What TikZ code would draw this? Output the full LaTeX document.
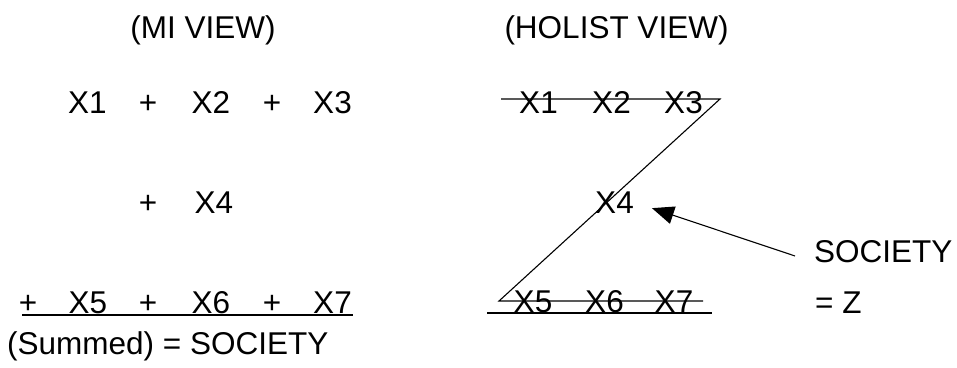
\documentclass[tikz,border=0pt]{standalone}
\usepackage{fontspec}
\setmainfont{Liberation Sans}
\usepackage{tikz}
\usetikzlibrary{arrows.meta,positioning}
\tikzset{
  arr/.style={-{Triangle[length=22pt,width=18pt]},line width=1.1pt},
  rule/.style={line width=1.1pt},
  term/.style={inner sep=0pt,anchor=base,font=\fontsize{31.5}{38}\selectfont},
  lterm/.style={term,anchor=base west},
}
\begin{document}
\begin{tikzpicture}[x=1pt,y=-1pt]
\useasboundingbox (0,0) rectangle (957,367);

% MI view
\node[term] (mihead) at (203,38) {(MI VIEW)};
\node[term] (mx1) at (87.5,113) {X1};
\node[term] (mp2) at (148,113) {+};
\node[term] (mx2) at (211,113) {X2};
\node[term] (mp3) at (272,113) {+};
\node[term] (mx3) at (332.5,113) {X3};
\node[term] (mp4) at (148,213) {+};
\node[term] (mx4) at (214,213) {X4};
\node[term] (mp5) at (28,313) {+};
\node[term] (mx5) at (88,313) {X5};
\node[term] (mp6) at (148,313) {+};
\node[term] (mx6) at (211,313) {X6};
\node[term] (mp7) at (272,313) {+};
\node[term] (mx7) at (332.5,313) {X7};
\node[lterm] (sum) at (7,354) {(Summed) = SOCIETY};
\draw[rule] (22,315) -- (353,315);

% holist view
\node[term] (hohead) at (616.5,38) {(HOLIST VIEW)};
\node[term] (hx1) at (538.5,113) {X1};
\node[term] (hx2) at (611.5,113) {X2};
\node[term] (hx3) at (683.5,113) {X3};
\node[term] (hx4) at (614.5,213) {X4};
\node[term] (hx5) at (533,312) {X5};
\node[term] (hx6) at (604.5,312) {X6};
\node[term] (hx7) at (674,312) {X7};
\draw[rule] (501,99) -- (720,99) -- (499,301) -- (703,301);
\draw[rule] (487,313) -- (712,313);

\node[lterm] (soc) at (814,262) {SOCIETY};
\node[lterm] (eqz) at (815,313) {= Z};
\coordinate (tail) at (795,256);
\draw[arr] (tail) -- ([xshift=18pt,yshift=-6pt]hx4.east);
\end{tikzpicture}
\end{document}
